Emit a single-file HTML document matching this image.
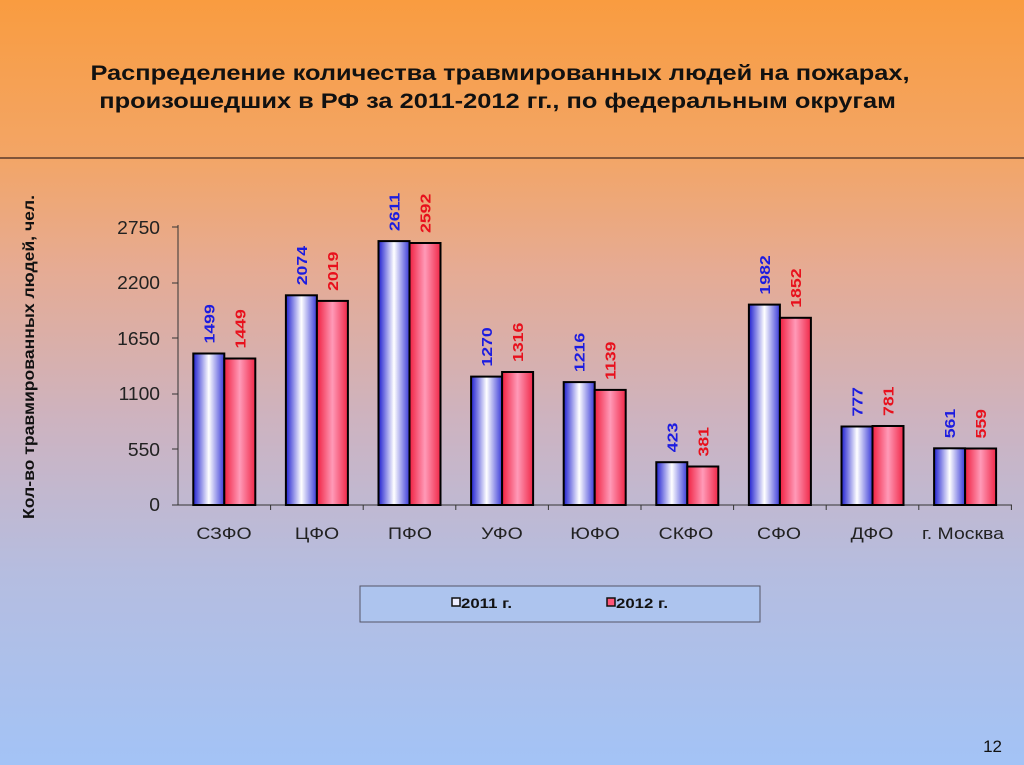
<!DOCTYPE html>
<html><head><meta charset="utf-8"><style>
body{margin:0;width:1024px;height:765px;overflow:hidden;font-family:"Liberation Sans",sans-serif;}
.bg{position:absolute;left:0;top:0;width:1024px;height:765px;background:linear-gradient(180deg,#f99c40 0%,#f3a565 20%,#e6ab93 35%,#cdb3c0 55%,#b5bde0 75%,#a3c3f6 100%);}
</style></head><body><div class="bg"></div>
<svg width="1024" height="765" style="position:absolute;left:0;top:0" font-family="Liberation Sans, sans-serif">
<defs>
<linearGradient id="gb" x1="0" x2="1"><stop offset="0" stop-color="#2020d0"/><stop offset="0.5" stop-color="#ffffff"/><stop offset="1" stop-color="#3a3ad8"/></linearGradient>
<linearGradient id="gr" x1="0" x2="1"><stop offset="0" stop-color="#f02040"/><stop offset="0.5" stop-color="#ff9ab8"/><stop offset="1" stop-color="#f02848"/></linearGradient>
</defs>
<g transform="translate(500,0) scale(1.21,1)" font-size="21" font-weight="bold" fill="#111" text-anchor="middle">
<text x="0" y="80">Распределение количества травмированных людей на пожарах,</text>
<text x="-2" y="108">произошедших в РФ за 2011-2012 гг., по федеральным округам</text>
</g>
<line x1="0" y1="158" x2="1024" y2="158" stroke="#5a3a2a" stroke-width="1.5"/>
<text transform="translate(34,357) rotate(-90) scale(1.1,1)" text-anchor="middle" font-size="16" font-weight="bold" fill="#111">Кол-во травмированных людей, чел.</text>
<g transform="translate(160,0) scale(1.07,1)" font-size="18" fill="#222" text-anchor="end">
<text x="0" y="234">2750</text><text x="0" y="289">2200</text><text x="0" y="345">1650</text><text x="0" y="400">1100</text><text x="0" y="456">550</text><text x="0" y="511">0</text></g>
<g stroke="#333" stroke-width="1">
<line x1="178" y1="225" x2="178" y2="505"/><line x1="178" y1="505" x2="1012" y2="505"/>
<line x1="172" y1="227" x2="178" y2="227"/><line x1="172" y1="283" x2="178" y2="283"/><line x1="172" y1="338" x2="178" y2="338"/><line x1="172" y1="394" x2="178" y2="394"/><line x1="172" y1="449" x2="178" y2="449"/><line x1="172" y1="505" x2="178" y2="505"/>
<line x1="270.6" y1="505" x2="270.6" y2="510"/><line x1="363.2" y1="505" x2="363.2" y2="510"/><line x1="455.8" y1="505" x2="455.8" y2="510"/><line x1="548.4" y1="505" x2="548.4" y2="510"/><line x1="641" y1="505" x2="641" y2="510"/><line x1="733.6" y1="505" x2="733.6" y2="510"/><line x1="826.2" y1="505" x2="826.2" y2="510"/><line x1="918.8" y1="505" x2="918.8" y2="510"/><line x1="1011.4" y1="505" x2="1011.4" y2="510"/>
</g>
<g stroke="#000" stroke-width="2">
<rect x="193.3" y="353.5" width="31" height="151.5" fill="url(#gb)"/><rect x="224.3" y="358.5" width="31" height="146.5" fill="url(#gr)"/>
<rect x="285.9" y="295.3" width="31" height="209.7" fill="url(#gb)"/><rect x="316.9" y="300.9" width="31" height="204.1" fill="url(#gr)"/>
<rect x="378.5" y="241.1" width="31" height="263.9" fill="url(#gb)"/><rect x="409.5" y="243" width="31" height="262" fill="url(#gr)"/>
<rect x="471.1" y="376.6" width="31" height="128.4" fill="url(#gb)"/><rect x="502.1" y="372" width="31" height="133" fill="url(#gr)"/>
<rect x="563.7" y="382.1" width="31" height="122.9" fill="url(#gb)"/><rect x="594.7" y="389.9" width="31" height="115.1" fill="url(#gr)"/>
<rect x="656.3" y="462.2" width="31" height="42.8" fill="url(#gb)"/><rect x="687.3" y="466.5" width="31" height="38.5" fill="url(#gr)"/>
<rect x="748.9" y="304.6" width="31" height="200.4" fill="url(#gb)"/><rect x="779.9" y="317.8" width="31" height="187.2" fill="url(#gr)"/>
<rect x="841.5" y="426.5" width="31" height="78.5" fill="url(#gb)"/><rect x="872.5" y="426" width="31" height="79" fill="url(#gr)"/>
<rect x="934.1" y="448.3" width="31" height="56.7" fill="url(#gb)"/><rect x="965.1" y="448.5" width="31" height="56.5" fill="url(#gr)"/>
</g>
<g font-size="15" font-weight="bold" fill="#1c1ce0">
<text transform="translate(214.3,343.5) rotate(-90) scale(1.18,1)">1499</text>
<text transform="translate(306.9,285.3) rotate(-90) scale(1.18,1)">2074</text>
<text transform="translate(399.5,231.1) rotate(-90) scale(1.18,1)">2611</text>
<text transform="translate(492.1,366.6) rotate(-90) scale(1.18,1)">1270</text>
<text transform="translate(584.7,372.1) rotate(-90) scale(1.18,1)">1216</text>
<text transform="translate(677.3,452.2) rotate(-90) scale(1.18,1)">423</text>
<text transform="translate(769.9,294.6) rotate(-90) scale(1.18,1)">1982</text>
<text transform="translate(862.5,416.5) rotate(-90) scale(1.18,1)">777</text>
<text transform="translate(955.1,438.3) rotate(-90) scale(1.18,1)">561</text>
</g>
<g font-size="15" font-weight="bold" fill="#e8101c">
<text transform="translate(245.3,348.5) rotate(-90) scale(1.18,1)">1449</text>
<text transform="translate(337.9,290.9) rotate(-90) scale(1.18,1)">2019</text>
<text transform="translate(430.5,233) rotate(-90) scale(1.18,1)">2592</text>
<text transform="translate(523.1,362) rotate(-90) scale(1.18,1)">1316</text>
<text transform="translate(615.7,379.9) rotate(-90) scale(1.18,1)">1139</text>
<text transform="translate(708.3,456.5) rotate(-90) scale(1.18,1)">381</text>
<text transform="translate(800.9,307.8) rotate(-90) scale(1.18,1)">1852</text>
<text transform="translate(893.5,416) rotate(-90) scale(1.18,1)">781</text>
<text transform="translate(986.1,438.5) rotate(-90) scale(1.18,1)">559</text>
</g>
<g font-size="17" fill="#222" text-anchor="middle">
<text transform="translate(224,539) scale(1.145,1)">СЗФО</text>
<text transform="translate(317,539) scale(1.145,1)">ЦФО</text>
<text transform="translate(410,539) scale(1.145,1)">ПФО</text>
<text transform="translate(502,539) scale(1.145,1)">УФО</text>
<text transform="translate(595,539) scale(1.145,1)">ЮФО</text>
<text transform="translate(686,539) scale(1.145,1)">СКФО</text>
<text transform="translate(779,539) scale(1.145,1)">СФО</text>
<text transform="translate(872,539) scale(1.145,1)">ДФО</text>
<text transform="translate(963,539) scale(1.145,1)">г. Москва</text></g>
<rect x="360" y="586" width="400" height="36" fill="#adc4ee" stroke="#556" stroke-width="1"/>
<rect x="452" y="598" width="8" height="8" fill="#eef" stroke="#111" stroke-width="1.5"/>
<text transform="translate(461,608) scale(1.2,1)" font-size="14" font-weight="bold" fill="#111">2011 г.</text>
<rect x="607" y="598" width="8" height="8" fill="#f57" stroke="#111" stroke-width="1.5"/>
<text transform="translate(616,608) scale(1.2,1)" font-size="14" font-weight="bold" fill="#111">2012 г.</text>
<text x="1002" y="752" text-anchor="end" font-size="17" fill="#111">12</text>
</svg></body></html>
